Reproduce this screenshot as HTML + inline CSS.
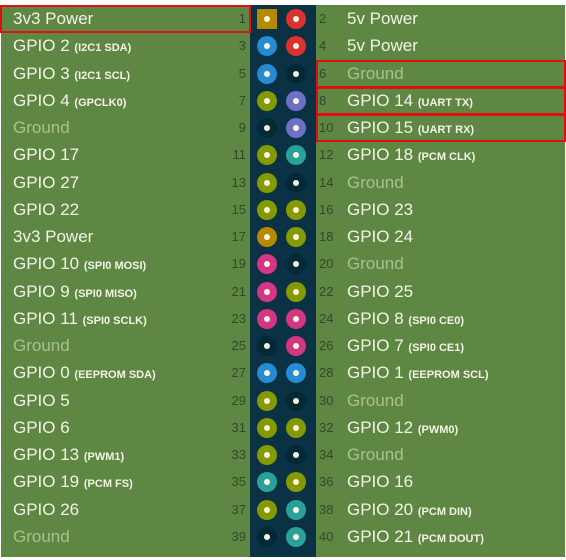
<!DOCTYPE html>
<html><head><meta charset="utf-8"><style>
body{margin:0;width:566px;height:560px;background:#fff;position:relative;overflow:hidden;font-family:"Liberation Sans",sans-serif}
#bg{position:absolute;left:1px;top:5px;width:564px;height:552px;background:#5f8744}
#strip{position:absolute;left:250px;top:5px;width:66px;height:552px;background:#0b3244}
.r{position:absolute;left:0;width:566px;height:27px}
.lt{position:absolute;left:13px;top:4px;font-size:17px;color:#f3f3e6;white-space:nowrap}
.rt{position:absolute;left:347px;top:4px;font-size:17px;color:#f3f3e6;white-space:nowrap}
.g{color:#a9c08f}
small{font-size:11px;font-weight:bold}
.ln{position:absolute;right:320px;top:6px;font-size:13px;color:#2e4a2b}
.rn{position:absolute;left:319px;top:6px;font-size:13px;color:#2e4a2b}
.p{position:absolute;width:20px;height:20px;border-radius:50%;top:4px}
.p::after{content:"";position:absolute;left:7px;top:7px;width:6px;height:6px;border-radius:50%;background:#fdf6e3}
.a{left:257px}.b{left:286px}
.sq{border-radius:0}
.o{background:#b58900}.red{background:#dc322f}.bl{background:#268bd2}.k{background:#002b36}.y{background:#859900}.v{background:#6c71c4}.c{background:#2aa198}.m{background:#d33682}
.box{position:absolute;border:2px solid #e01010;box-sizing:border-box}
</style></head><body>
<div id="bg"></div><div id="strip"></div>
<div class="r" style="top:5px"><span class="lt">3v3 Power</span><span class="ln">1</span><i class="p a o sq"></i><i class="p b red"></i><span class="rn">2</span><span class="rt">5v Power</span></div>
<div class="r" style="top:32.3px"><span class="lt">GPIO 2 <small>(I2C1 SDA)</small></span><span class="ln">3</span><i class="p a bl"></i><i class="p b red"></i><span class="rn">4</span><span class="rt">5v Power</span></div>
<div class="r" style="top:59.5px"><span class="lt">GPIO 3 <small>(I2C1 SCL)</small></span><span class="ln">5</span><i class="p a bl"></i><i class="p b k"></i><span class="rn">6</span><span class="rt g">Ground</span></div>
<div class="r" style="top:86.8px"><span class="lt">GPIO 4 <small>(GPCLK0)</small></span><span class="ln">7</span><i class="p a y"></i><i class="p b v"></i><span class="rn">8</span><span class="rt">GPIO 14 <small>(UART TX)</small></span></div>
<div class="r" style="top:114px"><span class="lt g">Ground</span><span class="ln">9</span><i class="p a k"></i><i class="p b v"></i><span class="rn">10</span><span class="rt">GPIO 15 <small>(UART RX)</small></span></div>
<div class="r" style="top:141.3px"><span class="lt">GPIO 17</span><span class="ln">11</span><i class="p a y"></i><i class="p b c"></i><span class="rn">12</span><span class="rt">GPIO 18 <small>(PCM CLK)</small></span></div>
<div class="r" style="top:168.6px"><span class="lt">GPIO 27</span><span class="ln">13</span><i class="p a y"></i><i class="p b k"></i><span class="rn">14</span><span class="rt g">Ground</span></div>
<div class="r" style="top:195.8px"><span class="lt">GPIO 22</span><span class="ln">15</span><i class="p a y"></i><i class="p b y"></i><span class="rn">16</span><span class="rt">GPIO 23</span></div>
<div class="r" style="top:223.1px"><span class="lt">3v3 Power</span><span class="ln">17</span><i class="p a o"></i><i class="p b y"></i><span class="rn">18</span><span class="rt">GPIO 24</span></div>
<div class="r" style="top:250.3px"><span class="lt">GPIO 10 <small>(SPI0 MOSI)</small></span><span class="ln">19</span><i class="p a m"></i><i class="p b k"></i><span class="rn">20</span><span class="rt g">Ground</span></div>
<div class="r" style="top:277.6px"><span class="lt">GPIO 9 <small>(SPI0 MISO)</small></span><span class="ln">21</span><i class="p a m"></i><i class="p b y"></i><span class="rn">22</span><span class="rt">GPIO 25</span></div>
<div class="r" style="top:304.9px"><span class="lt">GPIO 11 <small>(SPI0 SCLK)</small></span><span class="ln">23</span><i class="p a m"></i><i class="p b m"></i><span class="rn">24</span><span class="rt">GPIO 8 <small>(SPI0 CE0)</small></span></div>
<div class="r" style="top:332.1px"><span class="lt g">Ground</span><span class="ln">25</span><i class="p a k"></i><i class="p b m"></i><span class="rn">26</span><span class="rt">GPIO 7 <small>(SPI0 CE1)</small></span></div>
<div class="r" style="top:359.4px"><span class="lt">GPIO 0 <small>(EEPROM SDA)</small></span><span class="ln">27</span><i class="p a bl"></i><i class="p b bl"></i><span class="rn">28</span><span class="rt">GPIO 1 <small>(EEPROM SCL)</small></span></div>
<div class="r" style="top:386.6px"><span class="lt">GPIO 5</span><span class="ln">29</span><i class="p a y"></i><i class="p b k"></i><span class="rn">30</span><span class="rt g">Ground</span></div>
<div class="r" style="top:413.9px"><span class="lt">GPIO 6</span><span class="ln">31</span><i class="p a y"></i><i class="p b y"></i><span class="rn">32</span><span class="rt">GPIO 12 <small>(PWM0)</small></span></div>
<div class="r" style="top:441.2px"><span class="lt">GPIO 13 <small>(PWM1)</small></span><span class="ln">33</span><i class="p a y"></i><i class="p b k"></i><span class="rn">34</span><span class="rt g">Ground</span></div>
<div class="r" style="top:468.4px"><span class="lt">GPIO 19 <small>(PCM FS)</small></span><span class="ln">35</span><i class="p a c"></i><i class="p b y"></i><span class="rn">36</span><span class="rt">GPIO 16</span></div>
<div class="r" style="top:495.7px"><span class="lt">GPIO 26</span><span class="ln">37</span><i class="p a y"></i><i class="p b c"></i><span class="rn">38</span><span class="rt">GPIO 20 <small>(PCM DIN)</small></span></div>
<div class="r" style="top:522.9px"><span class="lt g">Ground</span><span class="ln">39</span><i class="p a k"></i><i class="p b c"></i><span class="rn">40</span><span class="rt">GPIO 21 <small>(PCM DOUT)</small></span></div>
<div class="box" style="left:0;top:5px;width:251px;height:28px"></div>
<div class="box" style="left:316px;top:60px;width:250px;height:28px"></div>
<div class="box" style="left:316px;top:87px;width:250px;height:28px"></div>
<div class="box" style="left:316px;top:114px;width:250px;height:28px"></div>
</body></html>
